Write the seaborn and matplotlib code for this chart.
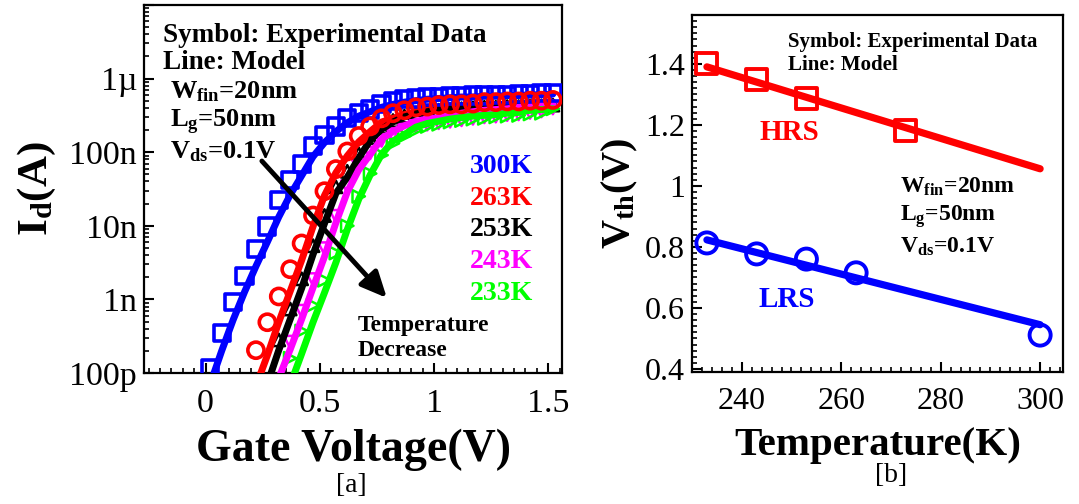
import numpy as np
import pandas as pd
import matplotlib
matplotlib.use("Agg")
import matplotlib.pyplot as plt
import seaborn as sns
from matplotlib.ticker import MultipleLocator, LogLocator, FixedLocator, FixedFormatter, NullFormatter

# ---------------- data: panel (a) ----------------
VG = [0.02, 0.07, 0.12, 0.17, 0.22, 0.27, 0.32, 0.37, 0.42, 0.47, 0.52,
      0.57, 0.62, 0.67, 0.72, 0.77, 0.82, 0.87, 0.92, 0.97, 1.02, 1.07,
      1.12, 1.17, 1.22, 1.27, 1.32, 1.37, 1.42, 1.47, 1.52]

# log10(Id / A), experimental (symbols); start index into VG
exp_300 = [-9.93, -9.46, -9.04, -8.68, -8.32, -8.01, -7.65, -7.38, -7.16, -6.92, -6.77,
           -6.65, -6.54, -6.47, -6.42, -6.35, -6.31, -6.28, -6.27, -6.25, -6.25, -6.24,
           -6.24, -6.23, -6.23, -6.22, -6.22, -6.21, -6.21, -6.20, -6.20]
exp_263 = [-9.69, -9.31, -8.96, -8.59, -8.24, -7.86, -7.53, -7.23, -6.99, -6.78, -6.65,
           -6.54, -6.47, -6.43, -6.39, -6.38, -6.36, -6.35, -6.35, -6.34, -6.32, -6.32,
           -6.31, -6.31, -6.30, -6.30, -6.29]
exp_253 = [-9.55, -9.13, -8.72, -8.27, -7.86, -7.47, -7.26, -7.02, -6.80, -6.66, -6.57,
           -6.51, -6.47, -6.45, -6.43, -6.42, -6.41, -6.40, -6.39, -6.39, -6.38, -6.38,
           -6.37, -6.37, -6.36]
exp_243 = [-9.58, -9.16, -8.73, -8.31, -7.87, -7.47, -7.20, -7.01, -6.84, -6.76, -6.70,
           -6.65, -6.62, -6.60, -6.58, -6.56, -6.54, -6.52, -6.51, -6.49, -6.48, -6.46,
           -6.44, -6.40]
exp_233 = [-9.80, -9.43, -9.08, -8.74, -8.37, -8.00, -7.60, -7.29, -7.04, -6.88, -6.78,
           -6.70, -6.65, -6.62, -6.59, -6.57, -6.55, -6.54, -6.52, -6.51, -6.50, -6.48,
           -6.47, -6.41]

# log10(Id / A), model (lines)
mod_300 = [-10.15, -9.70, -9.28, -8.90, -8.55, -8.22, -7.88, -7.58, -7.32, -7.06, -6.87,
           -6.72, -6.60, -6.51, -6.45, -6.39, -6.35, -6.32, -6.30, -6.28, -6.27, -6.26,
           -6.25, -6.25, -6.24, -6.24, -6.23, -6.23, -6.22, -6.22, -6.21]
mod_263 = [-10.18, -9.76, -9.31, -8.89, -8.47, -8.01, -7.59, -7.28, -7.05, -6.86, -6.72,
           -6.59, -6.54, -6.49, -6.45, -6.43, -6.41, -6.40, -6.39, -6.38, -6.37, -6.36,
           -6.35, -6.34, -6.33, -6.33, -6.32]
mod_253 = [-10.15, -9.69, -9.27, -8.85, -8.39, -7.97, -7.56, -7.34, -7.08, -6.84, -6.69,
           -6.59, -6.52, -6.48, -6.45, -6.42, -6.41, -6.40, -6.39, -6.38, -6.38, -6.37,
           -6.36, -6.36, -6.35, -6.34]
mod_243 = [-10.07, -9.68, -9.27, -8.84, -8.42, -7.96, -7.54, -7.24, -7.03, -6.82, -6.72,
           -6.64, -6.58, -6.55, -6.53, -6.50, -6.47, -6.45, -6.43, -6.42, -6.41, -6.39,
           -6.38, -6.36, -6.35]
mod_233 = [-10.16, -9.74, -9.31, -8.91, -8.50, -8.05, -7.64, -7.31, -7.03, -6.85, -6.76,
           -6.66, -6.61, -6.58, -6.55, -6.53, -6.51, -6.50, -6.49, -6.47, -6.46, -6.43,
           -6.42, -6.41]

temps_a = ["300K", "263K", "253K", "243K", "233K"]
colors_a = ["#0000ff", "#ff0000", "#000000", "#ff00ff", "#00ff00"]
markers_a = ["s", "o", "^", "v", ">"]
exp_a = [exp_300, exp_263, exp_253, exp_243, exp_233]
exp_start = [0, 4, 6, 7, 7]
mod_a = [mod_300, mod_263, mod_253, mod_243, mod_233]
mod_start = [0, 4, 5, 6, 7]

ytick_vals = [1e-10, 1e-9, 1e-8, 1e-7, 1e-6, 1e-5]
ytick_labels = ["100p", "1n", "10n", "100n", "1\u00b5", ""]

# ---------------- data: panel (b) ----------------
T_hrs = [233, 243, 253, 273]
V_hrs = [1.40, 1.35, 1.285, 1.18]
T_lrs = [233, 243, 253, 263, 300]
V_lrs = [0.813, 0.777, 0.76, 0.715, 0.511]
T_model = [233, 300]
V_hrs_model = [1.39, 1.056]
V_lrs_model = [0.823, 0.545]

# ---------------- style ----------------
sns.set_theme(style="ticks")
plt.rcParams["font.family"] = ["Liberation Serif", "DejaVu Serif"]
plt.rcParams["mathtext.fontset"] = "custom"
plt.rcParams["mathtext.rm"] = "Liberation Serif"
plt.rcParams["mathtext.bf"] = "Liberation Serif:bold"
plt.rcParams["mathtext.it"] = "Liberation Serif:italic"
plt.rcParams["axes.linewidth"] = 1.6
plt.rcParams["axes.edgecolor"] = "black"
plt.rcParams["text.color"] = "black"
plt.rcParams["axes.labelcolor"] = "black"
plt.rcParams["xtick.color"] = "black"
plt.rcParams["ytick.color"] = "black"

fig = plt.figure(figsize=(10.79, 5.04), dpi=100)
W, H = 1079, 504
axA = fig.add_axes([144 / W, 1 - 373 / H, 418 / W, 368 / H])
axB = fig.add_axes([692 / W, 1 - 372 / H, 371 / W, 357 / H])

# ---- panel a ----
for name, c, m, ev, es, mv, ms in zip(temps_a, colors_a, markers_a, exp_a, exp_start, mod_a, mod_start):
    dm = pd.DataFrame({"Vg": VG[ms:ms + len(mv)], "Id": 10.0 ** np.array(mv)})
    sns.lineplot(data=dm, x="Vg", y="Id", ax=axA, color=c, lw=5, sort=False,
                 estimator=None, zorder=3)
    de = pd.DataFrame({"Vg": VG[es:es + len(ev)], "Id": 10.0 ** np.array(ev)})
    if m in ("s", "o"):
        msize, mlw, mz = 135, 2.6, 4
    else:
        msize, mlw, mz = 80, 1.8, 2
    sns.scatterplot(data=de, x="Vg", y="Id", ax=axA, marker=m, s=msize, color=c,
                    facecolor="none", edgecolor=c, linewidth=mlw, zorder=mz)

axA.set_yscale("log")
axA.set_xlim(-0.27, 1.56)
axA.set_ylim(1e-10, 1e-5)
axA.yaxis.set_major_locator(FixedLocator(ytick_vals))
axA.yaxis.set_major_formatter(FixedFormatter(ytick_labels))
axA.yaxis.set_minor_locator(LogLocator(base=10, subs=np.arange(2, 10) * 1.0, numticks=20))
axA.yaxis.set_minor_formatter(NullFormatter())
axA.xaxis.set_minor_locator(MultipleLocator(0.05))
axA.set_xticks([0, 0.5, 1, 1.5])
axA.set_xticklabels(["0", "0.5", "1", "1.5"])
axA.set_xlabel("Gate Voltage(V)", fontsize=33, fontweight="bold", labelpad=7)
axA.set_ylabel(r"I$_\mathbf{d}$(A)", fontsize=31, fontweight="bold", labelpad=8)

tA = axA.transAxes
axA.text(0.045, 0.918, "Symbol: Experimental Data", transform=tA, fontsize=19.5,
         fontweight="bold", va="center", ha="left")
axA.text(0.045, 0.845, "Line: Model", transform=tA, fontsize=19.5,
         fontweight="bold", va="center", ha="left")
axA.text(0.062, 0.764, r"W$_\mathbf{fin}$=20nm", transform=tA, fontsize=19,
         fontweight="bold", va="center", ha="left")
axA.text(0.062, 0.682, r"L$_\mathbf{g}$=50nm", transform=tA, fontsize=19,
         fontweight="bold", va="center", ha="left")
axA.text(0.062, 0.601, r"V$_\mathbf{ds}$=0.1V", transform=tA, fontsize=19,
         fontweight="bold", va="center", ha="left")
for name, c, yy in zip(temps_a, colors_a, [0.560, 0.473, 0.389, 0.302, 0.217]):
    axA.text(0.780, yy, name, transform=tA, fontsize=20, fontweight="bold",
             color=c, va="center", ha="left")
axA.text(0.512, 0.130, "Temperature", transform=tA, fontsize=17, fontweight="bold",
         va="center", ha="left")
axA.text(0.512, 0.0625, "Decrease", transform=tA, fontsize=17, fontweight="bold",
         va="center", ha="left")
axA.annotate("", xy=(0.581, 0.204), xycoords=tA, xytext=(0.282, 0.576), textcoords=tA,
             arrowprops=dict(arrowstyle="-|>,head_length=1.3,head_width=0.6",
                             color="black", lw=3.5, shrinkA=0, shrinkB=0), zorder=5)

# ---- panel b ----
sns.lineplot(x=T_model, y=V_hrs_model, ax=axB, color="#ff0000", lw=5.2, zorder=2)
sns.lineplot(x=T_model, y=V_lrs_model, ax=axB, color="#0000ff", lw=5.2, zorder=2)
sns.scatterplot(x=T_hrs, y=V_hrs, ax=axB, marker="s", s=230, color="#ff0000",
                facecolor="none", edgecolor="#ff0000", linewidth=2.8, zorder=3)
sns.scatterplot(x=T_lrs, y=V_lrs, ax=axB, marker="o", s=230, color="#0000ff",
                facecolor="none", edgecolor="#0000ff", linewidth=2.8, zorder=3)
axB.set_xlim(230, 304.6)
axB.set_ylim(0.39, 1.56)
axB.xaxis.set_minor_locator(MultipleLocator(2))
axB.yaxis.set_minor_locator(MultipleLocator(0.02))
axB.set_xticks([240, 260, 280, 300])
axB.set_xticklabels(["240", "260", "280", "300"])
axB.set_yticks([0.4, 0.6, 0.8, 1.0, 1.2, 1.4])
axB.set_yticklabels(["0.4", "0.6", "0.8", "1", "1.2", "1.4"])
axB.set_xlabel("Temperature(K)", fontsize=29.5, fontweight="bold", labelpad=8)
axB.set_ylabel(r"V$_\mathbf{th}$(V)", fontsize=29, fontweight="bold", labelpad=4)

tB = axB.transAxes
axB.text(0.259, 0.924, "Symbol: Experimental Data", transform=tB, fontsize=15,
         fontweight="bold", va="center", ha="left")
axB.text(0.259, 0.860, "Line: Model", transform=tB, fontsize=15,
         fontweight="bold", va="center", ha="left")
axB.text(0.183, 0.672, "HRS", transform=tB, fontsize=21, color="#ff0000",
         fontweight="bold", va="center", ha="left")
axB.text(0.178, 0.202, "LRS", transform=tB, fontsize=21, color="#0000ff",
         fontweight="bold", va="center", ha="left")
axB.text(0.561, 0.518, r"W$_\mathbf{fin}$=20nm", transform=tB, fontsize=17,
         fontweight="bold", va="center", ha="left")
axB.text(0.561, 0.434, r"L$_\mathbf{g}$=50nm", transform=tB, fontsize=17,
         fontweight="bold", va="center", ha="left")
axB.text(0.561, 0.350, r"V$_\mathbf{ds}$=0.1V", transform=tB, fontsize=17,
         fontweight="bold", va="center", ha="left")

for ax, lsz in ((axA, 24.5), (axB, 23)):
    ax.tick_params(which="major", direction="in", length=7, width=1.5,
                   labelsize=lsz, pad=5, top=False, right=False, colors="black")
    ax.tick_params(which="minor", direction="in", length=3.5, width=1.2,
                   top=False, right=False, colors="black")
    ax.tick_params(axis="x", which="major", pad=11)
    for s in ax.spines.values():
        s.set_visible(True)
        s.set_linewidth(1.6)
        s.set_color("black")
    ax.grid(False)
    ax.set_facecolor("white")

fig.text(351 / W, 1 - 486 / H, "[a]", fontsize=20, ha="center", va="center", color="black")
fig.text(891 / W, 1 - 476 / H, "[b]", fontsize=20, ha="center", va="center", color="black")

fig.savefig("out.png", dpi=100, facecolor="white")
